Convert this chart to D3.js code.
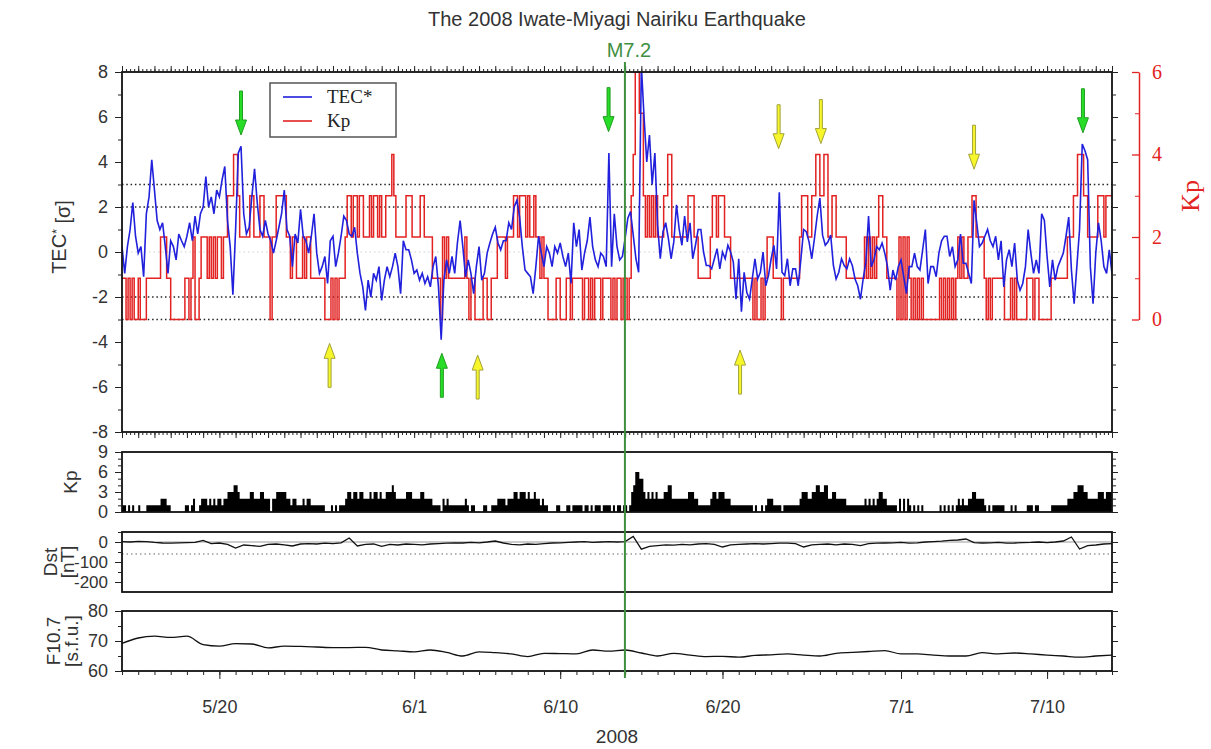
<!DOCTYPE html>
<html>
<head>
<meta charset="utf-8">
<title>The 2008 Iwate-Miyagi Nairiku Earthquake</title>
<script src="https://d3js.org/d3.v7.min.js"></script>
<style>
	body { margin: 0; background: #fff; }
	svg text { font-family: "Liberation Sans", Arial, sans-serif; fill: #333; }
</style>
</head>
<body>
<svg id="chart" width="1211" height="749"></svg>
<script>

// ---- data ----
var startDay = "2008-05-14T00:00Z";
var endDay = "2008-07-14T00:00Z";
var quakeTime = "2008-06-13T23:43Z";

// TEC* [sigma], one value every 4 hours from startDay
var tecValues = [
	0.24,-0.95,0.24,1.0,2.2,0.7,-0.05,0.24,-1.1,1.7,
	2.45,4.1,2.75,1.4,1.0,1.3,0.24,-0.95,0.5,0.24,
	-0.35,0.8,0.5,0.24,0.7,1.3,0.5,1.6,0.8,1.7,
	2.0,3.35,2.0,2.45,1.7,2.75,2.45,3.2,3.8,1.4,
	0.24,-1.9,1.0,4.4,4.7,1.7,0.8,1.1,2.45,3.7,
	2.2,1.0,0.7,1.4,0.8,0.5,-0.05,0.5,1.1,1.7,
	2.75,1.0,0.7,-0.65,0.8,0.4,1.9,0.7,0.5,-0.05,
	0.7,1.7,-0.05,-0.95,-0.65,-0.2,-1.4,0.5,0.7,-0.65,
	-0.05,0.7,1.6,1.4,0.8,0.7,1.1,-0.05,-0.95,-1.55,
	-2.6,-1.25,-2.0,-0.95,-1.25,-0.65,-2.15,-1.25,-0.65,-1.1,
	-0.65,-0.05,-0.65,-1.85,0.5,0.1,0.1,-0.35,-0.95,-0.8,
	-1.25,-0.95,-1.4,-1.1,-1.55,-0.65,-0.2,-1.55,-3.9,-1.25,
	-0.35,-0.95,-0.2,-0.95,0.4,1.4,0.24,-1.1,-0.35,-0.95,
	-1.85,-0.65,0.24,-1.25,-0.95,-0.05,0.4,0.8,1.1,0.4,
	0.1,0.5,0.5,1.3,1.0,2.0,2.3,1.55,0.24,-0.8,
	-0.95,-1.1,-1.85,-0.65,0.7,-0.05,-0.65,0.24,-0.05,-0.65,
	0.24,-0.05,0.4,-0.2,-0.65,-0.05,-1.4,1.3,0.24,1.0,
	-0.8,-0.05,0.5,1.55,0.24,-0.35,-0.65,-0.05,-0.2,-0.65,
	4.4,-0.65,1.7,0.24,-0.35,-0.2,0.6,1.5,1.8,0.75,
	-0.3,-0.9,8.3,6.0,4.0,5.2,3.0,4.4,1.2,-0.3,
	0.9,1.3,0.6,-0.3,0.45,2.1,1.0,0.3,1.6,0.45,
	1.3,-0.3,0.3,1.0,1.0,0,-0.6,-0.6,-0.75,-0.3,
	0.15,-0.75,0,-0.3,0.3,0,-0.45,-2.1,-0.3,-2.65,
	-0.9,-1.8,-2.1,-1.2,-0.3,-1.2,-0.9,0,-1.5,-1.05,
	-0.3,0.3,-0.75,2.65,-0.9,-1.05,-0.3,-1.5,-0.75,-0.75,
	-1.5,-0.3,1.0,0.9,0.45,-0.3,0.6,1.6,2.4,0.75,
	0.3,0.45,0.75,-0.6,-1.2,-0.9,-0.3,-0.6,-0.75,-0.3,
	-0.6,-1.2,-1.5,-2.1,-1.2,-0.45,1.6,-0.65,-0.35,0.24,
	0.1,0.4,-0.05,-0.65,-1.7,-0.8,-1.25,-0.65,-0.35,-1.1,
	-1.85,-0.65,-0.65,-0.05,-0.65,-0.8,0.1,1.0,-1.4,-0.65,
	-0.65,-1.1,-0.05,0.5,0.7,0.7,-0.2,0.24,-0.65,-0.35,
	0.8,-0.5,-0.5,-0.95,-1.4,2.3,1.3,0.24,0.4,0.7,
	1.0,0.5,0.24,0.7,-0.35,0.5,-1.55,-0.35,0.1,-0.65,
	0.4,-1.25,-1.7,-1.4,-0.65,1.0,-0.05,-0.95,-0.35,-0.95,
	1.7,1.4,-0.2,-1.55,-0.35,-1.25,-0.65,-0.35,-0.05,0.7,
	1.55,-0.8,-2.3,-0.65,1.0,4.8,4.5,4.1,-0.65,-2.3,
	-0.05,1.3,0.5,-0.65,-0.95,0.1,-0.95
];

// Kp, 3-hourly (8 per day) from startDay
var kpValues = [
	1,1,0,1,0,1,0,0,  1,0,0,0,1,1,1,1,  1,1,1,2,2,2,1,1,  0,0,0,0,0,0,0,1,
	1,0,1,2,0,0,1,2,  2,2,1,2,1,2,1,2,  2,1,2,2,3,3,3,4,  4,3,2,2,2,2,2,3,
	3,2,2,2,3,3,2,2,  2,0,2,2,3,3,3,3,  3,2,2,1,2,2,1,1,  1,2,1,2,2,1,1,1,
	1,1,1,1,0,0,0,1,  0,1,0,1,1,1,2,3,  3,2,3,3,2,3,3,2,  2,2,3,2,3,3,2,3,
	2,2,3,3,3,4,3,2,  2,2,2,2,3,3,3,2,  2,2,2,3,3,2,2,2,  2,1,1,1,1,0,2,1,
	2,1,1,1,1,1,1,1,  1,2,1,0,1,1,0,0,  0,0,1,1,0,0,1,1,  1,2,2,2,2,1,2,2,
	2,3,3,2,3,3,3,2,  3,2,2,3,2,2,1,2,  1,1,0,0,0,0,1,1,  0,0,0,1,1,0,1,1,
	1,1,1,0,1,1,0,1,  0,1,1,1,0,1,1,1,  1,0,1,0,1,1,0,1,  1,0,1,3,4,6,6,5,
	5,3,2,3,2,3,2,3,  2,2,2,3,3,4,4,2,  2,2,2,2,2,2,2,3,  3,3,2,2,1,1,1,1,
	1,1,2,3,3,2,3,3,  3,2,2,2,1,1,1,1,  1,1,1,1,1,1,1,0,  1,0,0,1,0,1,2,2,
	2,1,1,1,1,0,1,1,  1,1,1,1,1,1,2,3,  3,3,2,2,3,3,4,4,  3,3,4,4,2,2,3,3,
	2,2,2,2,2,1,1,1,  1,1,1,1,1,1,2,1,  2,1,2,1,2,3,3,2,  2,1,1,1,1,1,0,2,
	0,2,0,2,1,0,1,0,  1,0,1,0,0,0,0,0,  0,0,0,1,0,1,0,1,  0,1,0,1,2,1,2,1,
	1,2,2,3,3,2,2,2,  2,1,0,1,0,1,1,1,  1,1,1,0,0,0,1,0,  1,0,0,0,0,0,1,1,
	1,0,1,1,0,0,0,0,  0,0,1,1,1,1,1,1,  1,1,2,2,2,3,3,4,  4,4,3,3,2,2,2,2,
	2,3,3,3,2,3,3,3
];

// Dst [nT], every 12 hours from startDay
var dstValues = [
	2,0,3,2,-2,-5,-6,-4,-3,-2,
	8,-8,-5,-12,-30,-15,-18,-22,-12,-10,
	-14,-20,-10,-8,-10,-6,-8,-4,20,-20,
	-12,-10,-22,-12,-15,-10,-12,-14,-10,-8,
	-6,-4,-5,-2,-4,0,5,-5,-12,-14,
	-10,-12,-8,-5,-4,-2,0,2,-2,0,
	2,0,2,28,-36,-22,-18,-14,-16,-12,
	-14,-10,-8,-12,-25,-14,-12,-10,-8,-10,
	-8,-6,-6,-8,-25,-14,-12,-10,-14,-10,
	-12,-18,-8,-6,-5,-4,-2,-6,-4,0,
	2,4,8,10,15,-3,-5,-4,-2,-6,
	-5,-3,-2,0,-3,0,5,25,-35,-18,
	-15,-10,-8
];

// F10.7 [s.f.u.], daily from startDay
var f107Values = [
	69.2,71.0,71.6,71.2,71.6,68.8,68.3,69.1,69.0,67.7,
	68.3,68.2,68.0,67.8,67.8,67.9,67.0,66.7,66.4,67.0,
	66.2,65.0,66.4,66.1,65.7,64.8,65.9,65.8,65.7,67.0,
	66.6,67.0,66.0,65.0,65.9,65.3,64.8,64.9,64.6,65.2,
	65.4,65.7,65.3,65.0,65.9,66.2,66.5,66.8,65.7,65.7,
	65.3,65.0,65.0,66.1,65.7,66.0,65.7,65.3,65.0,64.6,
	65.0,65.3
];

// anomaly arrows: time, TEC* value at the tip, direction, colour
var arrowTimes = ["2008-05-21T08:00Z","2008-06-12T23:30Z","2008-07-12T05:00Z","2008-06-02T17:00Z",
	"2008-05-26T19:00Z","2008-06-04T22:00Z","2008-06-21T02:00Z","2008-06-23T11:00Z",
	"2008-06-26T01:30Z","2008-07-05T12:00Z"];
var arrowTips = [5.2, 5.35, 5.3, -4.5, -4.06, -4.58, -4.36, 4.59, 4.82, 3.68];
var arrowDirs = ["down","down","down","up","up","up","up","down","down","down"];
var arrowKinds = ["green","green","green","green","yellow","yellow","yellow","yellow","yellow","yellow"];

var dateTicks = ["2008-05-20","2008-06-01","2008-06-10","2008-06-20","2008-07-01","2008-07-10"];

// ---- layout ----
var svg = d3.select("#chart");
var left = 122, right = 1112;
var HOUR = 3600 * 1000;
var t0 = new Date(startDay), t1 = new Date(endDay);

var x = d3.scaleUtc().domain([t0, t1]).range([left, right]);
var yTec = d3.scaleLinear().domain([-8, 8]).range([432, 72]);
var yKpTop = d3.scaleLinear().domain([0, 6]).range([yTec(-3), 72]);
var yKp = d3.scaleLinear().domain([0, 9]).range([512, 452]);
var yDst = d3.scaleLinear().domain([-250, 50]).range([592, 532]);
var yF = d3.scaleLinear().domain([60, 80]).range([671, 611]);

var tec = tecValues.map(function(v, i) { return {t: new Date(+t0 + i * 4 * HOUR), v: v}; });
var kp = kpValues.map(function(v, i) { return {t: new Date(+t0 + i * 3 * HOUR), v: v}; });
kp.push({t: t1, v: kpValues[kpValues.length - 1]});
var dst = dstValues.map(function(v, i) { return {t: new Date(+t0 + i * 12 * HOUR), v: v}; });
var f107 = f107Values.map(function(v, i) { return {t: new Date(+t0 + i * 24 * HOUR), v: v}; });

var fmt = function(d) { return String(d); };
var tickFont = "18px";

function range(a, b, s) { var r = []; for (var v = a; v <= b + 1e-9; v += s) r.push(v); return r; }

// left / right value axes for a panel
function valueAxes(scale, majors, minors, labels, size) {
	var gl = svg.append("g").attr("transform", "translate(" + left + ",0)");
	gl.call(d3.axisLeft(scale).tickValues(majors).tickSize(7).tickPadding(7).tickFormat(labels ? fmt : ""))
		.style("font-size", size || tickFont);
	gl.selectAll("text").style("fill", "#333");
	gl.select(".domain").remove();
	var gm = svg.append("g").attr("transform", "translate(" + left + ",0)")
		.call(d3.axisLeft(scale).tickValues(minors).tickSize(4).tickFormat(""));
	gm.select(".domain").remove();
	var gr = svg.append("g").attr("transform", "translate(" + right + ",0)")
		.call(d3.axisRight(scale).tickValues(majors).tickSize(6).tickFormat(""));
	gr.select(".domain").remove();
	var gr2 = svg.append("g").attr("transform", "translate(" + right + ",0)")
		.call(d3.axisRight(scale).tickValues(minors).tickSize(4).tickFormat(""));
	gr2.select(".domain").remove();
}

function frame(scale) {
	var r = scale.range();
	svg.append("rect")
		.attr("x", left).attr("y", Math.min(r[0], r[1]))
		.attr("width", right - left).attr("height", Math.abs(r[0] - r[1]))
		.attr("fill", "none").attr("stroke", "#111").attr("stroke-width", 1.8);
}

function sideTitle(lines, y) {
	lines.forEach(function(l) {
		svg.append("text")
			.attr("transform", "translate(" + l[1] + "," + y + ") rotate(-90)")
			.attr("text-anchor", "middle").style("font-size", "19px")
			.text(l[0]);
	});
}

// ---- top panel: TEC* and Kp ----
svg.append("clipPath").attr("id", "clipTop").append("rect")
	.attr("x", left).attr("y", 72).attr("width", right - left).attr("height", 360);

svg.append("line")
	.attr("x1", left).attr("x2", right).attr("y1", yTec(0)).attr("y2", yTec(0))
	.attr("stroke", "#cfcfcf").attr("stroke-width", 1).attr("stroke-dasharray", "1.5,3");

svg.selectAll(".sigmaLine")
	.data([3, 2, -2, -3])
	.enter().append("line")
		.attr("x1", left).attr("x2", right)
		.attr("y1", function(d) { return yTec(d); })
		.attr("y2", function(d) { return yTec(d); })
		.attr("stroke", "#222").attr("stroke-width", 1.6).attr("stroke-dasharray", "1.5,2.8");

svg.append("path")
	.datum(kp)
	.attr("clip-path", "url(#clipTop)")
	.attr("fill", "none").attr("stroke", "#e32222").attr("stroke-width", 1.5)
	.attr("d", d3.line().x(function(d) { return x(d.t); }).y(function(d) { return yKpTop(d.v); }).curve(d3.curveStepAfter));

svg.append("path")
	.datum(tec)
	.attr("clip-path", "url(#clipTop)")
	.attr("fill", "none").attr("stroke", "#2020dd").attr("stroke-width", 1.6)
	.attr("d", d3.line().x(function(d) { return x(d.t); }).y(function(d) { return yTec(d.v); }));

frame(yTec);
valueAxes(yTec, range(-8, 8, 2), range(-7, 7, 2), true);

// time ticks on top and bottom edge of the top panel
[[72, d3.axisTop], [432, d3.axisBottom]].forEach(function(p) {
	var g1 = svg.append("g").attr("transform", "translate(0," + p[0] + ")")
		.call(p[1](x).ticks(d3.utcHour.every(6)).tickSize(3).tickFormat(""));
	g1.select(".domain").remove();
	var g2 = svg.append("g").attr("transform", "translate(0," + p[0] + ")")
		.call(p[1](x).ticks(d3.utcDay.every(1)).tickSize(6).tickFormat(""));
	g2.select(".domain").remove();
});
svg.selectAll(".tick line").attr("stroke", "#222");

// Kp axis on the right (red)
var kpAxis = svg.append("g").attr("transform", "translate(1139,0)")
	.call(d3.axisRight(yKpTop).tickValues([0, 2, 4, 6]).tickSizeInner(-7).tickSizeOuter(0)
		.tickPadding(13).tickFormat(fmt));
kpAxis.selectAll("text").style("font-family", "'Liberation Serif', 'Times New Roman', serif")
	.style("font-size", "20px").style("fill", "#e32222");
kpAxis.selectAll("line").attr("stroke", "#e32222").attr("stroke-width", 1.3);
kpAxis.select(".domain").attr("stroke", "#e32222").attr("stroke-width", 1.5);
var kpMinor = svg.append("g").attr("transform", "translate(1139,0)")
	.call(d3.axisRight(yKpTop).tickValues([1, 3, 5]).tickSizeInner(-4).tickSizeOuter(0).tickFormat(""));
kpMinor.selectAll("line").attr("stroke", "#e32222");
kpMinor.select(".domain").remove();

svg.append("text")
	.attr("transform", "translate(1199,196) rotate(-90)")
	.attr("text-anchor", "middle")
	.style("font-family", "'Liberation Serif', 'Times New Roman', serif")
	.style("font-size", "26px").style("fill", "#e32222")
	.text("Kp");

// y title
var tecTitle = svg.append("text")
	.attr("transform", "translate(66,237) rotate(-90)")
	.attr("text-anchor", "middle")
	.style("font-size", "20px");
tecTitle.append("tspan").text("TEC");
tecTitle.append("tspan").attr("dy", "-0.45em").style("font-size", "12px").text("*");
tecTitle.append("tspan").attr("dy", "0.45em").text(" [σ]");

// legend
var legend = svg.append("g");
legend.append("rect").attr("x", 270).attr("y", 83).attr("width", 126).attr("height", 54)
	.attr("fill", "#fff").attr("stroke", "#555").attr("stroke-width", 1.5);
[["TEC*", "#2020dd", 97], ["Kp", "#e32222", 121]].forEach(function(l) {
	legend.append("line").attr("x1", 283).attr("x2", 312).attr("y1", l[2]).attr("y2", l[2])
		.attr("stroke", l[1]).attr("stroke-width", 1.6);
	legend.append("text").attr("x", 327).attr("y", l[2] + 6)
		.style("font-family", "'Liberation Serif', 'Times New Roman', serif")
		.style("font-size", "19px").style("fill", "#222")
		.text(l[0]);
});

// arrows
var arrowFill = {green: "#28dd28", yellow: "#f6f62a"};
var arrowStroke = {green: "#1e9e1e", yellow: "#a3a33a"};
var arrowShape = "M-1.5,-44L1.5,-44L1.5,-15L5.5,-15L0,0L-5.5,-15L-1.5,-15Z";
svg.selectAll(".arrow")
	.data(arrowTimes)
	.enter().append("path")
		.attr("transform", function(d, i) {
			return "translate(" + x(new Date(d)) + "," + yTec(arrowTips[i]) + ")" +
				(arrowDirs[i] == "up" ? " scale(1,-1)" : "");
		})
		.attr("d", arrowShape)
		.attr("fill", function(d, i) { return arrowFill[arrowKinds[i]]; })
		.attr("stroke", function(d, i) { return arrowStroke[arrowKinds[i]]; })
		.attr("stroke-width", 1);

// ---- Kp bar panel ----
svg.append("path")
	.datum(kp)
	.attr("fill", "#000")
	.attr("d", d3.area().x(function(d) { return x(d.t); }).y0(yKp(0)).y1(function(d) { return yKp(d.v); }).curve(d3.curveStepAfter));
frame(yKp);
valueAxes(yKp, [0, 3, 6, 9], [1, 2, 4, 5, 7, 8], true);
sideTitle([["Kp", 77]], 482);

// ---- Dst panel ----
svg.append("line")
	.attr("x1", left).attr("x2", right).attr("y1", yDst(0)).attr("y2", yDst(0))
	.attr("stroke", "#9a9a9a").attr("stroke-width", 1);
svg.append("line")
	.attr("x1", left).attr("x2", right).attr("y1", yDst(-60)).attr("y2", yDst(-60))
	.attr("stroke", "#9a9a9a").attr("stroke-width", 1.3).attr("stroke-dasharray", "1.5,3");
svg.append("path")
	.datum(dst)
	.attr("fill", "none").attr("stroke", "#111").attr("stroke-width", 1.3)
	.attr("d", d3.line().x(function(d) { return x(d.t); }).y(function(d) { return yDst(d.v); }));
frame(yDst);
valueAxes(yDst, [0, -100, -200], [50, -50, -150], true, "17px");
sideTitle([["Dst", 57], ["[nT]", 74]], 562);

// ---- F10.7 panel ----
svg.append("path")
	.datum(f107)
	.attr("fill", "none").attr("stroke", "#111").attr("stroke-width", 1.3)
	.attr("d", d3.line().x(function(d) { return x(d.t); }).y(function(d) { return yF(d.v); }).curve(d3.curveMonotoneX));
frame(yF);
valueAxes(yF, [60, 70, 80], [65, 75], true);
sideTitle([["F10.7", 60], ["[s.f.u.]", 78]], 641);

// bottom date axis
var gDay = svg.append("g").attr("transform", "translate(0,671)")
	.call(d3.axisBottom(x).ticks(d3.utcDay.every(1)).tickSize(4).tickFormat(""));
gDay.select(".domain").remove();
var gDate = svg.append("g").attr("transform", "translate(0,671)")
	.call(d3.axisBottom(x).tickValues(dateTicks.map(function(d) { return new Date(d + "T00:00Z"); }))
		.tickSize(8).tickPadding(21).tickFormat(d3.utcFormat("%-m/%-d")))
	.style("font-size", tickFont);
gDate.select(".domain").remove();
gDate.selectAll("text").style("fill", "#333");
svg.selectAll(".tick line").filter(function() { return this.getAttribute("stroke") != "#e32222"; })
	.attr("stroke", "#222");

svg.append("text")
	.attr("x", (left + right) / 2).attr("y", 743)
	.attr("text-anchor", "middle").style("font-size", "19px")
	.text("2008");

// ---- earthquake marker ----
var xq = x(new Date(quakeTime));
svg.append("line")
	.attr("x1", xq).attr("x2", xq).attr("y1", 62).attr("y2", 678)
	.attr("stroke", "#3f8f3f").attr("stroke-width", 2);
svg.append("text")
	.attr("x", xq + 4).attr("y", 57)
	.attr("text-anchor", "middle").style("font-size", "20px").style("fill", "#3f8f3f")
	.text("M7.2");

// title
svg.append("text")
	.attr("x", (left + right) / 2).attr("y", 26)
	.attr("text-anchor", "middle").style("font-size", "20px")
	.text("The 2008 Iwate-Miyagi Nairiku Earthquake");

</script>
</body>
</html>
